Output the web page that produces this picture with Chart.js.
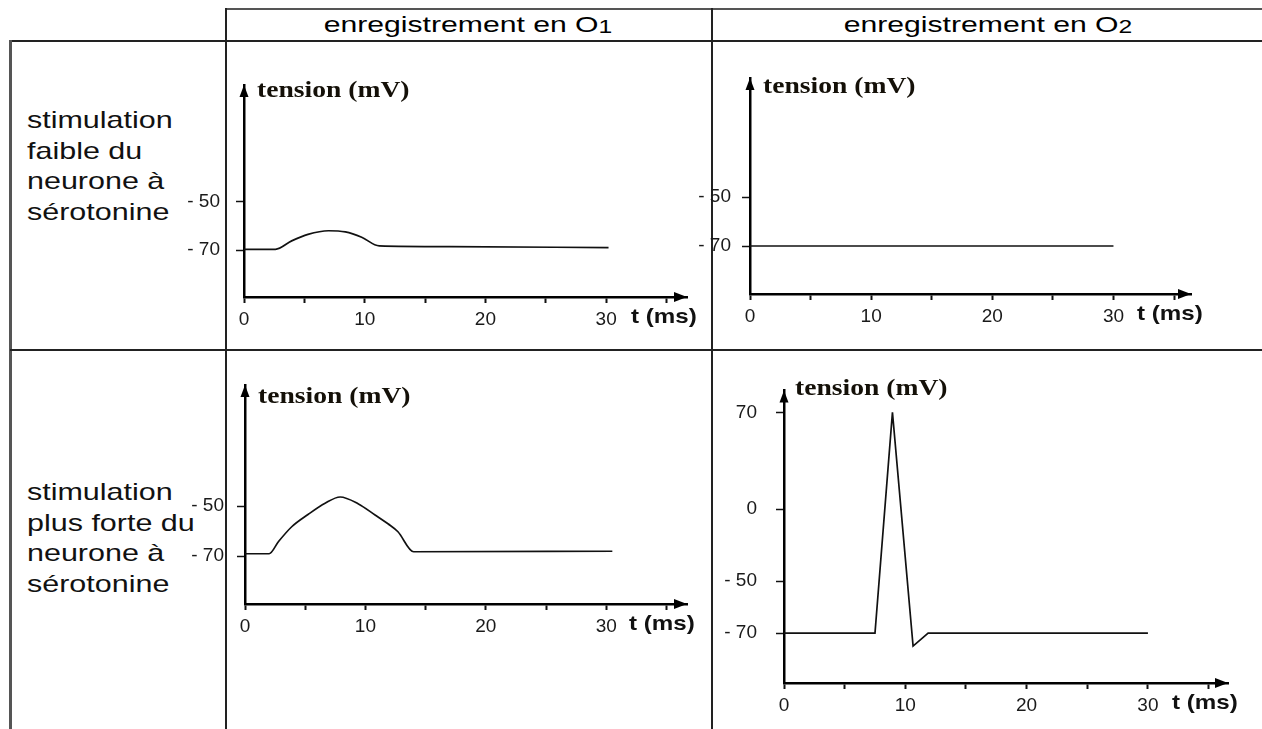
<!DOCTYPE html>
<html lang="fr">
<head>
<meta charset="utf-8">
<title>enregistrement en O1 / O2</title>
<script src="https://cdn.jsdelivr.net/npm/chart.js@4.4.1/dist/chart.umd.min.js"></script>
<style>
  html, body { margin: 0; padding: 0; background: #fff; }
  body { width: 1262px; height: 729px; position: relative; overflow: hidden; font-family: "Liberation Sans", Arial, sans-serif; color: #111; }
  .ln { position: absolute; background: #222; }
  .ln.outer { background: #555; }
  .head { position: absolute; top: 12px; font-size: 22px; color: #000; white-space: nowrap; transform-origin: center top; }
  .head span { font-size: 18px; position: relative; top: 1px; }
  .row { position: absolute; left: 27px; font-size: 24px; line-height: 30.5px; white-space: nowrap; transform: scaleX(1.27); transform-origin: left top; }
  canvas { position: absolute; }
</style>
</head>
<body>
<!-- table lines -->
<div class="ln outer" style="left:226px; top:8px; width:1036px; height:2px;"></div>
<div class="ln" style="left:10px; top:40px; width:1252px; height:2px;"></div>
<div class="ln outer" style="left:9px; top:40px; width:3px; height:689px;"></div>
<div class="ln" style="left:225px; top:8px; width:2px; height:721px;"></div>
<div class="ln" style="left:711px; top:8px; width:2px; height:721px;"></div>
<div class="ln" style="left:10px; top:349px; width:1252px; height:2px;"></div>

<div class="head" style="left:468px; transform: translateX(-50%) scaleX(1.37);">enregistrement en O<span>1</span></div>
<div class="head" style="left:988px; transform: translateX(-50%) scaleX(1.37);">enregistrement en O<span>2</span></div>

<div class="row" style="top:105px;">stimulation<br>faible du<br>neurone à<br>sérotonine</div>
<div class="row" style="top:477px;">stimulation<br>plus forte du<br>neurone à<br>sérotonine</div>

<canvas id="c1"></canvas>
<canvas id="c2"></canvas>
<canvas id="c3"></canvas>
<canvas id="c4"></canvas>

<script>
const tFaibleO1 = [0, 2.6, 3.95, 5.3, 7.0, 8.4, 9.75, 11.2, 17, 30.2];
const vFaibleO1 = [-69.7, -69.7, -66.2, -63.5, -62.0, -62.5, -64.7, -68.3, -68.6, -69.0];

const tFaibleO2 = [0, 30];
const vFaibleO2 = [-70, -70];

const tForteO1 = [0, 2.0, 2.77, 3.88, 5.26, 6.65, 7.9, 9.42, 10.8, 11.9, 12.7, 14.0, 30.5];
const vForteO1 = [-69.1, -69.1, -64.3, -58.3, -53.3, -48.9, -46.4, -49.2, -53.6, -57.2, -60.3, -68.3, -68.1];

const tForteO2 = [0, 7.5, 8.94, 10.64, 11.88, 30];
const vForteO2 = [-70, -70, 70, -75, -70, -70];

const xTickValues = [0, 5, 10, 15, 20, 25, 30, 35];
const xTickLabels = ['0', '', '10', '', '20', '', '30', ''];

const yTicksRepos = [-70, -50];
const yLabelsRepos = ['- 70', '- 50'];
const yTicksPA = [-70, -50, 0, 70];
const yLabelsPA = ['- 70', '- 50', '0', '70'];

const yTitle = 'tension (mV)';
const xTitle = 't (ms)';

// axe vertical non linéaire (schéma) : valeurs -> position relative (0 = bas, 1 = haut)
class SegmentScale extends Chart.LinearScale {
    static id = 'segment';
    static defaults = {};
    _toDecimal(value) {
        const vals = this.options.stopValues;
        const pos = this.options.stopPositions;
        let i = 0;
        while (i < vals.length - 2 && value > vals[i + 1]) i++;
        const f = (value - vals[i]) / (vals[i + 1] - vals[i]);
        return pos[i] + f * (pos[i + 1] - pos[i]);
    }
    getPixelForValue(value) {
        if (value === null) return NaN;
        return this.getPixelForDecimal(this._toDecimal(value));
    }
    getValueForPixel(pixel) {
        const d = this.getDecimalForPixel(pixel);
        const vals = this.options.stopValues;
        const pos = this.options.stopPositions;
        let i = 0;
        while (i < pos.length - 2 && d > pos[i + 1]) i++;
        const f = (d - pos[i]) / (pos[i + 1] - pos[i]);
        return vals[i] + f * (vals[i + 1] - vals[i]);
    }
}
Chart.register(SegmentScale);

const axisDecor = {
    id: 'axisDecor',
    afterDraw(chart, args, opts) {
        const { ctx, chartArea: a } = chart;
        ctx.save();
        ctx.fillStyle = '#000';
        // fleche axe y
        ctx.beginPath();
        ctx.moveTo(a.left, a.top);
        ctx.lineTo(a.left - 4.5, a.top + 12);
        ctx.lineTo(a.left + 4.5, a.top + 12);
        ctx.closePath();
        ctx.fill();
        // fleche axe x
        ctx.beginPath();
        ctx.moveTo(a.right, a.bottom);
        ctx.lineTo(a.right - 13, a.bottom - 5);
        ctx.lineTo(a.right - 13, a.bottom + 5);
        ctx.closePath();
        ctx.fill();

        ctx.fillStyle = '#141008';
        ctx.font = 'bold 23px "Liberation Serif", "Times New Roman", serif';
        ctx.textBaseline = 'alphabetic';
        ctx.save();
        ctx.translate(a.left + opts.titleDx, a.top + opts.titleDy);
        ctx.scale(1.2, 1);
        ctx.fillText(yTitle, 0, 0);
        ctx.restore();

        ctx.fillStyle = '#111';
        ctx.font = 'bold 21px "Liberation Sans", Arial, sans-serif';
        ctx.textBaseline = 'middle';
        ctx.save();
        ctx.translate(a.right - opts.xTitleDx, a.bottom + 20);
        ctx.scale(1.15, 1);
        ctx.fillText(xTitle, 0, 0);
        ctx.restore();
        ctx.restore();
    }
};

const panels = [
    { id: 'c1', t: tFaibleO1, v: vFaibleO1, smooth: true, xMax: 36.7,
      area: { left: 244, top: 85, right: 687, bottom: 297 },
      yMin: -89.5, yMax: -1.5, yTicks: yTicksRepos, yLabels: yLabelsRepos, yPad: 16,
      titleDx: 13, titleDy: 12, xTitleDx: 56 },
    { id: 'c2', t: tFaibleO2, v: vFaibleO2, smooth: false, xMax: 36.4,
      area: { left: 750, top: 78, right: 1191, bottom: 294 },
      yMin: -89.6, yMax: -1.4, yTicks: yTicksRepos, yLabels: yLabelsRepos, yPad: 11,
      titleDx: 13, titleDy: 15, xTitleDx: 54 },
    { id: 'c3', t: tForteO1, v: vForteO1, smooth: true, xMax: 36.7,
      area: { left: 245, top: 385, right: 687, bottom: 604 },
      yMin: -89.2, yMax: -1.6, yTicks: yTicksRepos, yLabels: yLabelsRepos, yPad: 13,
      titleDx: 13, titleDy: 18, xTitleDx: 58 },
    { id: 'c4', t: tForteO2, v: vForteO2, smooth: false, xMax: 36.6,
      area: { left: 784, top: 390, right: 1228, bottom: 683 },
      yMin: -89.2, yMax: 85.9, yTicks: yTicksPA, yLabels: yLabelsPA, yPad: 19,
      titleDx: 11, titleDy: 5, xTitleDx: 56,
      segment: { values: [-89.2, -70, -50, 0, 70, 85.9], positions: [0, 0.1706, 0.3481, 0.5939, 0.9249, 1] } }
];

const PAD_L = 90, PAD_T = 30, PAD_R = 40, PAD_B = 45;
const tickFont = { family: '"Liberation Sans", Arial, sans-serif', size: 19 };

panels.forEach(p => {
    const canvas = document.getElementById(p.id);
    const left = p.area.left - PAD_L;
    const top = p.area.top - PAD_T;
    const w = p.area.right + PAD_R - left;
    const h = p.area.bottom + PAD_B - top;
    canvas.style.left = left + 'px';
    canvas.style.top = top + 'px';
    canvas.width = w;
    canvas.height = h;
    canvas.style.width = w + 'px';
    canvas.style.height = h + 'px';

    const yScale = {
        type: p.segment ? 'segment' : 'linear',
        min: p.yMin,
        max: p.yMax,
        bounds: 'data',
        afterBuildTicks: s => { s.ticks = p.yTicks.map(v => ({ value: v })); },
        afterFit: s => { s.width = PAD_L; },
        grid: { drawOnChartArea: false, drawTicks: true, tickLength: 8, tickWidth: 1.5, tickColor: '#111' },
        border: { display: true, color: '#000', width: 2.5 },
        ticks: {
            autoSkip: false,
            padding: p.yPad,
            color: '#1a1a1a',
            font: tickFont,
            callback: (val, i) => p.yLabels[i]
        }
    };
    if (p.segment) {
        yScale.stopValues = p.segment.values;
        yScale.stopPositions = p.segment.positions;
    }

    new Chart(canvas.getContext('2d'), {
        type: 'line',
        data: {
            datasets: [{
                label: 'tension',
                data: p.t.map((t, i) => ({ x: t, y: p.v[i] })),
                borderColor: '#111',
                borderWidth: 1.7,
                pointRadius: 0,
                fill: false,
                cubicInterpolationMode: p.smooth ? 'monotone' : 'default',
                tension: 0
            }]
        },
        options: {
            responsive: false,
            animation: false,
            devicePixelRatio: 1,
            layout: { padding: { left: 0, top: PAD_T, right: PAD_R, bottom: 0 } },
            plugins: {
                legend: { display: false },
                tooltip: { enabled: false },
                axisDecor: { titleDx: p.titleDx, titleDy: p.titleDy, xTitleDx: p.xTitleDx }
            },
            scales: {
                x: {
                    type: 'linear',
                    min: 0,
                    max: p.xMax,
                    bounds: 'data',
                    afterBuildTicks: s => { s.ticks = xTickValues.map(v => ({ value: v })); },
                    afterFit: s => { s.height = PAD_B; },
                    grid: { drawOnChartArea: false, drawTicks: true, tickLength: 6, tickWidth: 2, tickColor: '#111' },
                    border: { display: true, color: '#000', width: 2.5 },
                    ticks: {
                        autoSkip: false,
                        maxRotation: 0,
                        padding: 5,
                        color: '#1a1a1a',
                        font: tickFont,
                        callback: (val, i) => xTickLabels[i]
                    }
                },
                y: yScale
            }
        },
        plugins: [axisDecor]
    });
});
</script>
</body>
</html>
